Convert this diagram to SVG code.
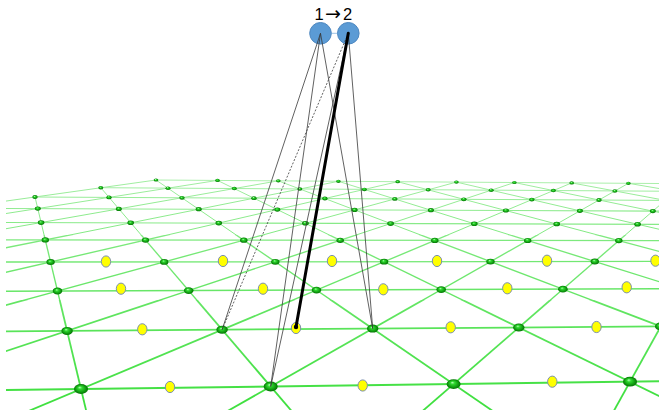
<svg xmlns="http://www.w3.org/2000/svg" xmlns:xlink="http://www.w3.org/1999/xlink" width="659" height="414" viewBox="0 0 659 414">
<style>
.row{fill:none;stroke:url(#lg)}
.cd{fill:none;stroke:url(#lg)}
.n{fill:url(#gn)}
.y{fill:#ffff00;stroke:#7a8fb0;stroke-width:1}
.bl{fill:#5b9bd5;stroke:#4f88c0;stroke-width:1}
.k{fill:none;stroke:#383838;stroke-width:0.8}
.lbl{font-family:"Liberation Sans",Arial,sans-serif;font-size:16.5px;fill:#000}
</style>
<defs>
<linearGradient id="lg" gradientUnits="userSpaceOnUse" x1="0" y1="180" x2="0" y2="400">
<stop offset="0" stop-color="#a2eda2"/>
<stop offset="0.35" stop-color="#74e874"/>
<stop offset="1" stop-color="#40e040"/>
</linearGradient>
<radialGradient id="gn" cx="0.5" cy="0.5" r="0.5" fx="0.4" fy="0.32">
<stop offset="0" stop-color="#b8ffb8"/>
<stop offset="0.3" stop-color="#30d830"/>
<stop offset="0.75" stop-color="#0e9a0e"/>
<stop offset="1" stop-color="#067006"/>
</radialGradient>
<clipPath id="cm"><rect x="6" y="0" width="653" height="410"/></clipPath>
<clipPath id="b1"><rect x="0" y="0" width="659" height="235"/></clipPath>
<clipPath id="b2"><rect x="0" y="235" width="659" height="65"/></clipPath>
<clipPath id="b3"><rect x="0" y="300" width="659" height="114"/></clipPath>
<g id="cdl">
<line x1="35.0" y1="197.0" x2="103.2" y2="481.7"/>
<line x1="100.8" y1="187.7" x2="347.4" y2="476.3"/>
<line x1="156.0" y1="180.0" x2="580.4" y2="471.1"/>
<line x1="217.5" y1="180.4" x2="802.8" y2="466.1"/>
<line x1="278.3" y1="180.8" x2="800.3" y2="379.5"/>
<line x1="338.4" y1="181.3" x2="798.7" y2="325.3"/>
<line x1="397.7" y1="181.7" x2="797.6" y2="288.3"/>
<line x1="456.4" y1="182.1" x2="796.8" y2="261.3"/>
<line x1="514.4" y1="182.5" x2="796.2" y2="240.8"/>
<line x1="571.7" y1="182.9" x2="795.7" y2="224.7"/>
<line x1="628.4" y1="183.3" x2="795.3" y2="211.7"/>
<line x1="156.0" y1="180.0" x2="-142.9" y2="222.0"/>
<line x1="217.5" y1="180.4" x2="-50.1" y2="222.3"/>
<line x1="278.3" y1="180.8" x2="-56.9" y2="239.8"/>
<line x1="338.4" y1="181.3" x2="-65.6" y2="262.1"/>
<line x1="397.7" y1="181.7" x2="-77.0" y2="291.5"/>
<line x1="456.4" y1="182.1" x2="-92.8" y2="332.1"/>
<line x1="514.4" y1="182.5" x2="-116.0" y2="391.6"/>
<line x1="571.7" y1="182.9" x2="-153.2" y2="487.4"/>
<line x1="628.4" y1="183.3" x2="103.2" y2="481.7"/>
<line x1="684.4" y1="183.7" x2="347.4" y2="476.3"/>
<line x1="739.8" y1="184.1" x2="580.4" y2="471.1"/>
</g>
</defs>
<rect width="659" height="414" fill="#ffffff"/>
<g id="mesh" clip-path="url(#cm)">
<g id="rows">
<line class="row" stroke-width="0.9" x1="156.0" y1="180.0" x2="684.4" y2="183.7"/>
<line class="row" stroke-width="0.95" x1="100.8" y1="187.7" x2="675.6" y2="191.3"/>
<line class="row" stroke-width="1.0" x1="35.0" y1="197.0" x2="665.2" y2="200.4"/>
<line class="row" stroke-width="1.05" x1="-44.6" y1="208.2" x2="724.6" y2="211.4"/>
<line class="row" stroke-width="1.1" x1="-50.1" y1="222.3" x2="717.3" y2="224.5"/>
<line class="row" stroke-width="1.2" x1="-56.9" y1="239.8" x2="708.3" y2="240.7"/>
<line class="row" stroke-width="1.35" x1="-65.6" y1="262.1" x2="696.8" y2="261.4"/>
<line class="row" stroke-width="1.5" x1="-77.0" y1="291.5" x2="681.7" y2="288.7"/>
<line class="row" stroke-width="1.75" x1="-92.8" y1="332.1" x2="798.7" y2="325.3"/>
<line class="row" stroke-width="2.0" x1="-116.0" y1="391.6" x2="800.3" y2="379.5"/>
</g>
<g id="cols-diags" class="cd">
<use xlink:href="#cdl" href="#cdl" stroke-width="1.0" clip-path="url(#b1)"/>
<use xlink:href="#cdl" href="#cdl" stroke-width="1.35" clip-path="url(#b2)"/>
<use xlink:href="#cdl" href="#cdl" stroke-width="1.8" clip-path="url(#b3)"/>
</g>
</g>
<g id="nodes">
<g id="row0">
<ellipse class="n" cx="156.0" cy="180.0" rx="2.3" ry="1.6"/>
<ellipse class="n" cx="217.5" cy="180.4" rx="2.3" ry="1.6"/>
<ellipse class="n" cx="278.3" cy="180.8" rx="2.3" ry="1.6"/>
<ellipse class="n" cx="338.4" cy="181.3" rx="2.3" ry="1.6"/>
<ellipse class="n" cx="397.7" cy="181.7" rx="2.3" ry="1.6"/>
<ellipse class="n" cx="456.4" cy="182.1" rx="2.3" ry="1.6"/>
<ellipse class="n" cx="514.4" cy="182.5" rx="2.3" ry="1.6"/>
<ellipse class="n" cx="571.7" cy="182.9" rx="2.3" ry="1.6"/>
<ellipse class="n" cx="628.4" cy="183.3" rx="2.3" ry="1.6"/>
</g>
<g id="row1">
<ellipse class="n" cx="100.8" cy="187.7" rx="2.5" ry="1.75"/>
<ellipse class="n" cx="168.0" cy="188.2" rx="2.5" ry="1.75"/>
<ellipse class="n" cx="234.3" cy="188.6" rx="2.5" ry="1.75"/>
<ellipse class="n" cx="299.8" cy="189.0" rx="2.5" ry="1.75"/>
<ellipse class="n" cx="364.4" cy="189.4" rx="2.5" ry="1.75"/>
<ellipse class="n" cx="428.2" cy="189.8" rx="2.5" ry="1.75"/>
<ellipse class="n" cx="491.2" cy="190.2" rx="2.5" ry="1.75"/>
<ellipse class="n" cx="553.4" cy="190.6" rx="2.5" ry="1.75"/>
<ellipse class="n" cx="614.9" cy="191.0" rx="2.5" ry="1.75"/>
</g>
<g id="row2">
<ellipse class="n" cx="35.0" cy="197.0" rx="2.7" ry="1.9"/>
<ellipse class="n" cx="109.0" cy="197.4" rx="2.7" ry="1.9"/>
<ellipse class="n" cx="182.0" cy="197.8" rx="2.7" ry="1.9"/>
<ellipse class="n" cx="253.9" cy="198.2" rx="2.7" ry="1.9"/>
<ellipse class="n" cx="324.9" cy="198.5" rx="2.7" ry="1.9"/>
<ellipse class="n" cx="394.8" cy="198.9" rx="2.7" ry="1.9"/>
<ellipse class="n" cx="463.8" cy="199.3" rx="2.7" ry="1.9"/>
<ellipse class="n" cx="531.8" cy="199.6" rx="2.7" ry="1.9"/>
<ellipse class="n" cx="599.0" cy="200.0" rx="2.7" ry="1.9"/>
</g>
<g id="row3">
<ellipse class="n" cx="37.8" cy="208.6" rx="3.0" ry="2.1"/>
<ellipse class="n" cx="118.8" cy="208.9" rx="3.0" ry="2.1"/>
<ellipse class="n" cx="198.7" cy="209.2" rx="3.0" ry="2.1"/>
<ellipse class="n" cx="277.3" cy="209.6" rx="3.0" ry="2.1"/>
<ellipse class="n" cx="354.6" cy="209.9" rx="3.0" ry="2.1"/>
<ellipse class="n" cx="430.9" cy="210.2" rx="3.0" ry="2.1"/>
<ellipse class="n" cx="505.9" cy="210.5" rx="3.0" ry="2.1"/>
<ellipse class="n" cx="579.9" cy="210.8" rx="3.0" ry="2.1"/>
<ellipse class="n" cx="652.8" cy="211.1" rx="3.0" ry="2.1"/>
</g>
<g id="row4">
<ellipse class="n" cx="41.1" cy="222.6" rx="3.3" ry="2.3"/>
<ellipse class="n" cx="130.7" cy="222.8" rx="3.3" ry="2.3"/>
<ellipse class="n" cx="218.8" cy="223.1" rx="3.3" ry="2.3"/>
<ellipse class="n" cx="305.4" cy="223.3" rx="3.3" ry="2.3"/>
<ellipse class="n" cx="390.6" cy="223.6" rx="3.3" ry="2.3"/>
<ellipse class="n" cx="474.3" cy="223.8" rx="3.3" ry="2.3"/>
<ellipse class="n" cx="556.7" cy="224.0" rx="3.3" ry="2.3"/>
<ellipse class="n" cx="637.6" cy="224.3" rx="3.3" ry="2.3"/>
</g>
<g id="row5">
<ellipse class="n" cx="45.3" cy="239.9" rx="3.7" ry="2.6"/>
<ellipse class="n" cx="145.5" cy="240.1" rx="3.7" ry="2.6"/>
<ellipse class="n" cx="243.8" cy="240.2" rx="3.7" ry="2.6"/>
<ellipse class="n" cx="340.2" cy="240.3" rx="3.7" ry="2.6"/>
<ellipse class="n" cx="434.8" cy="240.4" rx="3.7" ry="2.6"/>
<ellipse class="n" cx="527.7" cy="240.5" rx="3.7" ry="2.6"/>
<ellipse class="n" cx="618.8" cy="240.6" rx="3.7" ry="2.6"/>
</g>
<g id="row6">
<ellipse class="n" cx="50.6" cy="262.0" rx="4.2" ry="2.9"/>
<ellipse class="n" cx="164.2" cy="261.9" rx="4.2" ry="2.9"/>
<ellipse class="n" cx="275.3" cy="261.8" rx="4.2" ry="2.9"/>
<ellipse class="n" cx="384.1" cy="261.7" rx="4.2" ry="2.9"/>
<ellipse class="n" cx="490.5" cy="261.6" rx="4.2" ry="2.9"/>
<ellipse class="n" cx="594.8" cy="261.5" rx="4.2" ry="2.9"/>
</g>
<g id="row7">
<ellipse class="n" cx="57.5" cy="291.0" rx="4.8" ry="3.4"/>
<ellipse class="n" cx="188.7" cy="290.6" rx="4.8" ry="3.4"/>
<ellipse class="n" cx="316.5" cy="290.1" rx="4.8" ry="3.4"/>
<ellipse class="n" cx="441.2" cy="289.6" rx="4.8" ry="3.4"/>
<ellipse class="n" cx="562.9" cy="289.2" rx="4.8" ry="3.4"/>
</g>
<g id="row8">
<ellipse class="n" cx="67.1" cy="330.9" rx="5.7" ry="4.0"/>
<ellipse id="n-1-8" class="n" cx="222.1" cy="329.7" rx="5.7" ry="4.0"/>
<ellipse id="n-2-8" class="n" cx="372.7" cy="328.6" rx="5.7" ry="4.0"/>
<ellipse class="n" cx="518.8" cy="327.5" rx="5.7" ry="4.0"/>
<ellipse class="n" cx="660.7" cy="326.4" rx="5.7" ry="4.0"/>
</g>
<g id="row9">
<ellipse class="n" cx="81.0" cy="389.0" rx="7.0" ry="4.9"/>
<ellipse id="n-1-9" class="n" cx="270.7" cy="386.5" rx="7.0" ry="4.9"/>
<ellipse class="n" cx="453.6" cy="384.1" rx="7.0" ry="4.9"/>
<ellipse class="n" cx="630.0" cy="381.7" rx="7.0" ry="4.9"/>
</g>
</g>
<g id="points">
<ellipse class="y" cx="106" cy="261.5" rx="4.7" ry="5.6"/>
<ellipse class="y" cx="223" cy="261" rx="4.7" ry="5.6"/>
<ellipse class="y" cx="332" cy="261" rx="4.7" ry="5.6"/>
<ellipse class="y" cx="437" cy="261" rx="4.7" ry="5.6"/>
<ellipse class="y" cx="547" cy="260.7" rx="4.7" ry="5.6"/>
<ellipse class="y" cx="655.5" cy="260.7" rx="4.7" ry="5.6"/>
<ellipse class="y" cx="121" cy="288.7" rx="4.7" ry="5.6"/>
<ellipse class="y" cx="263" cy="288.7" rx="4.7" ry="5.6"/>
<ellipse class="y" cx="383.3" cy="289.3" rx="4.7" ry="5.6"/>
<ellipse class="y" cx="507.3" cy="288.3" rx="4.7" ry="5.6"/>
<ellipse class="y" cx="626.7" cy="287.3" rx="4.7" ry="5.6"/>
<ellipse class="y" cx="142.3" cy="329.3" rx="4.7" ry="5.6"/>
<ellipse id="target" class="y" cx="296" cy="328" rx="4.7" ry="5.6"/>
<ellipse class="y" cx="450.7" cy="327.3" rx="4.7" ry="5.6"/>
<ellipse class="y" cx="596.5" cy="327" rx="4.7" ry="5.6"/>
<ellipse class="y" cx="170" cy="387" rx="4.7" ry="5.6"/>
<ellipse class="y" cx="362.7" cy="385.5" rx="4.7" ry="5.6"/>
<ellipse class="y" cx="552.3" cy="381.7" rx="4.7" ry="5.6"/>
</g>
<line x1="331.5" y1="33.3" x2="337.3" y2="33.3" stroke="#9dc3e6" stroke-width="1"/>
<g id="node1"><circle class="bl" cx="320.5" cy="33.3" r="10.8"/></g>
<g id="node2"><circle class="bl" cx="348.3" cy="33.3" r="10.8"/></g>
<g id="connectors">
<line class="k" x1="320.5" y1="33.3" x2="222.1" y2="329.7"/>
<line class="k" x1="348.3" y1="33.3" x2="222.1" y2="329.7" stroke-dasharray="2 1.6"/>
<line class="k" x1="320.5" y1="33.3" x2="270.7" y2="386.5"/>
<line class="k" x1="348.3" y1="33.3" x2="270.7" y2="386.5"/>
<line class="k" x1="320.5" y1="33.3" x2="372.7" y2="328.6"/>
<line class="k" x1="348.3" y1="33.3" x2="372.7" y2="328.6"/>
<line x1="348.3" y1="33.3" x2="296" y2="327" stroke="#000" stroke-width="3" stroke-linecap="round"/>
<circle cx="296" cy="327" r="2.2" fill="#000"/>
</g>
<text class="lbl" y="19.8" text-anchor="middle"><tspan x="319">1</tspan><tspan x="333" font-family="DejaVu Sans" font-size="19px">→</tspan><tspan x="347.5">2</tspan></text>
</svg>
